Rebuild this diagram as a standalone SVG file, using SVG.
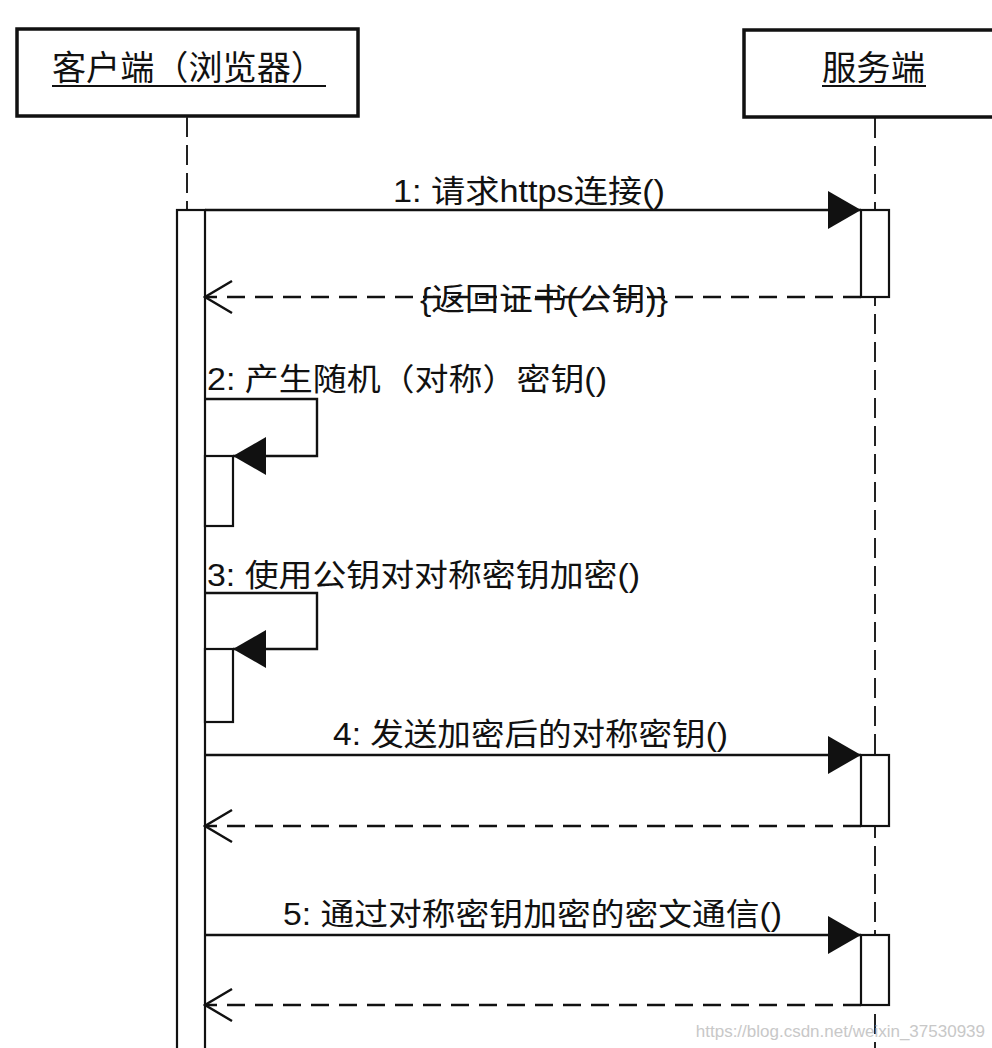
<svg xmlns="http://www.w3.org/2000/svg" width="992" height="1048" viewBox="0 0 992 1048">
<style>
.box{fill:#fff;stroke:#111;stroke-width:3.5}
.act{fill:#fff;stroke:#111;stroke-width:2.2}
.life{fill:none;stroke:#222;stroke-width:2;stroke-dasharray:20 8}
.msg{fill:none;stroke:#111;stroke-width:2.4}
.ret{fill:none;stroke:#111;stroke-width:2.4;stroke-dasharray:18 10}
.title{font-family:"Liberation Sans","Noto Sans CJK SC",sans-serif;font-size:34px;fill:#111}
.lbl{font-family:"Liberation Sans","Noto Sans CJK SC",sans-serif;font-size:31px;fill:#111}
.wm{font-family:"Liberation Sans",sans-serif;font-size:17px;fill:#c8c8c8}
</style>
<defs>
<marker id="filled" markerUnits="userSpaceOnUse" markerWidth="34" markerHeight="38" viewBox="0 0 34 38" refX="33" refY="19" orient="auto">
<path d="M0,0 L33,19 L0,38 z" fill="#111" stroke="none"/>
</marker>
<marker id="open" markerUnits="userSpaceOnUse" markerWidth="30" markerHeight="34" viewBox="0 0 30 34" refX="28" refY="17" orient="auto">
<path d="M1,1 L28,17 L1,33" fill="none" stroke="#111" stroke-width="2.4"/>
</marker>
</defs>
<rect width="992" height="1048" fill="#fff"/>
<g id="client">
<rect class="box" x="17" y="29" width="341" height="87"/>
<text class="title" x="52" y="80" textLength="273" lengthAdjust="spacingAndGlyphs">客户端（浏览器）</text>
<line x1="52" y1="86" x2="326" y2="86" stroke="#111" stroke-width="2"/>
<line class="life" x1="187" y1="117" x2="187" y2="210"/>
<rect class="act" x="177" y="210" width="28" height="850"/>
<rect class="act" x="205" y="456" width="28" height="70"/>
<rect class="act" x="205" y="649" width="28" height="73"/>
</g>
<g id="server">
<line class="life" x1="875" y1="118" x2="875" y2="1048"/>
<rect class="box" x="744" y="30" width="270" height="87"/>
<text class="title" x="822" y="80" textLength="103" lengthAdjust="spacingAndGlyphs">服务端</text>
<line x1="822" y1="86" x2="926" y2="86" stroke="#111" stroke-width="2"/>
<rect class="act" x="861" y="210" width="28" height="87"/>
<rect class="act" x="861" y="755" width="28" height="71"/>
<rect class="act" x="861" y="935" width="28" height="70"/>
</g>
<g id="connectors">
<line class="msg" x1="205" y1="210" x2="861" y2="210" marker-end="url(#filled)"/>
<text class="lbl" x="393" y="202" textLength="272" lengthAdjust="spacingAndGlyphs">1: 请求https连接()</text>
<line class="ret" x1="861" y1="297" x2="205" y2="297" marker-end="url(#open)"/>
<text class="lbl" x="420" y="310" textLength="248" lengthAdjust="spacingAndGlyphs">{返回证书(公钥)}</text>
<text class="lbl" x="207" y="390" textLength="400" lengthAdjust="spacingAndGlyphs">2: 产生随机（对称）密钥()</text>
<path class="msg" d="M205,399 H317 V456 H233" marker-end="url(#filled)"/>
<text class="lbl" x="207" y="586" textLength="433" lengthAdjust="spacingAndGlyphs">3: 使用公钥对对称密钥加密()</text>
<path class="msg" d="M205,593 H317 V649 H233" marker-end="url(#filled)"/>
<line class="msg" x1="205" y1="755" x2="861" y2="755" marker-end="url(#filled)"/>
<text class="lbl" x="333" y="745" textLength="395" lengthAdjust="spacingAndGlyphs">4: 发送加密后的对称密钥()</text>
<line class="ret" x1="861" y1="826" x2="205" y2="826" marker-end="url(#open)"/>
<line class="msg" x1="205" y1="935" x2="861" y2="935" marker-end="url(#filled)"/>
<text class="lbl" x="283" y="925" textLength="499" lengthAdjust="spacingAndGlyphs">5: 通过对称密钥加密的密文通信()</text>
<line class="ret" x1="861" y1="1005" x2="205" y2="1005" marker-end="url(#open)"/>
</g>
<text class="wm" x="985" y="1037" text-anchor="end">https://blog.csdn.net/weixin_37530939</text>
</svg>
